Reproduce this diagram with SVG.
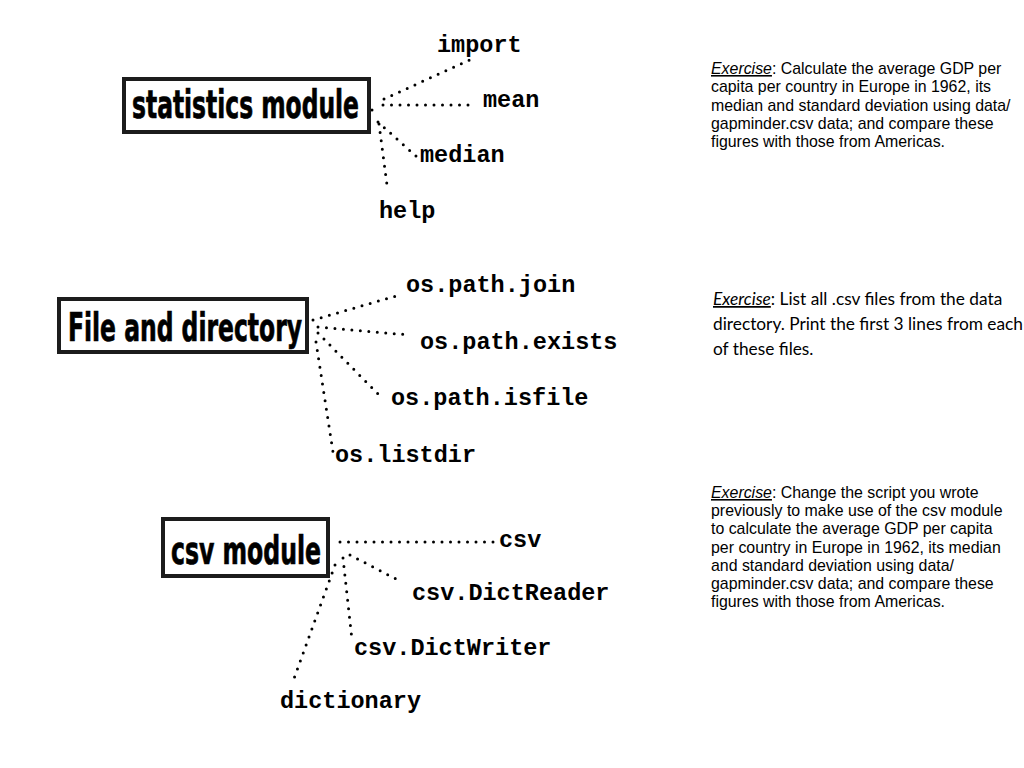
<svg xmlns="http://www.w3.org/2000/svg" width="1024" height="768" viewBox="0 0 1024 768">
<style>
.box{fill:#fff;stroke:#1c1c1c;stroke-width:4}
.title{font-family:"Liberation Sans Narrow","DejaVu Sans Condensed","Liberation Sans",sans-serif;font-weight:bold;font-size:39px;fill:#000;stroke:#000;stroke-width:0.7}
.lbl{font-family:"Liberation Mono","Courier New",monospace;font-weight:bold;font-size:23.5px;fill:#000}
.dot{stroke:#000;stroke-width:3;stroke-linecap:round;stroke-dasharray:0 8.5;fill:none}
.ex{font-family:"Liberation Sans",Arial,sans-serif;font-size:15.9px;fill:#000}
.ex2{font-family:Lato,"Open Sans",sans-serif;font-size:17.3px;fill:#000}
.u{font-style:italic;text-decoration:underline}
</style>
<rect width="1024" height="768" fill="#fff"/>
<g id="connectors">
<line class="dot" x1="384" y1="99" x2="476" y2="57"/>
<line class="dot" x1="383" y1="105" x2="474" y2="105"/>
<circle cx="372" cy="110" r="1.5"/>
<line class="dot" x1="378" y1="122" x2="417" y2="157"/>
<line class="dot" x1="379" y1="124" x2="387" y2="185"/>
<line class="dot" x1="313" y1="320" x2="396" y2="296"/>
<line class="dot" x1="318" y1="327" x2="410" y2="335"/>
<line class="dot" x1="318" y1="333" x2="382" y2="398"/>
<line class="dot" x1="316" y1="342" x2="333" y2="452"/>
<line class="dot" x1="340" y1="542" x2="495" y2="542"/>
<line class="dot" x1="350" y1="555" x2="398" y2="580"/>
<line class="dot" x1="343" y1="558" x2="352" y2="640"/>
<line class="dot" x1="335" y1="565" x2="292" y2="684"/>
</g>
<g id="statistics">
<rect class="box" x="124" y="79" width="245" height="53"/>
<text class="title" x="132" y="118" textLength="227" lengthAdjust="spacingAndGlyphs">statistics module</text>
</g>
<g id="stat-labels">
<text class="lbl" x="437" y="52">import</text>
<text class="lbl" x="483" y="107">mean</text>
<text class="lbl" x="420" y="162">median</text>
<text class="lbl" x="379" y="218">help</text>
</g>
<g id="filedir">
<rect class="box" x="59" y="299" width="248" height="53"/>
<text class="title" x="68" y="341" textLength="234" lengthAdjust="spacingAndGlyphs">File and directory</text>
</g>
<g id="file-labels">
<text class="lbl" x="406" y="292">os.path.join</text>
<text class="lbl" x="420" y="349">os.path.exists</text>
<text class="lbl" x="391" y="405">os.path.isfile</text>
<text class="lbl" x="335" y="462">os.listdir</text>
</g>
<g id="csv">
<rect class="box" x="163" y="519" width="165" height="57"/>
<text class="title" x="171" y="564" textLength="150" lengthAdjust="spacingAndGlyphs">csv module</text>
</g>
<g id="csv-labels">
<text class="lbl" x="499" y="547">csv</text>
<text class="lbl" x="412" y="600">csv.DictReader</text>
<text class="lbl" x="354" y="655">csv.DictWriter</text>
<text class="lbl" x="280" y="708">dictionary</text>
</g>
<g id="exercise1">
<text class="ex" x="711" y="74"><tspan class="u">Exercise</tspan>: Calculate the average GDP per</text>
<text class="ex" x="711" y="92">capita per country in Europe in 1962, its</text>
<text class="ex" x="711" y="111">median and standard deviation using data/</text>
<text class="ex" x="711" y="129">gapminder.csv data; and compare these</text>
<text class="ex" x="711" y="147">figures with those from Americas.</text>
</g>
<g id="exercise2">
<text class="ex2" x="713" y="305"><tspan class="u">Exercise</tspan>: List all .csv files from the data</text>
<text class="ex2" x="713" y="330">directory. Print the first 3 lines from each</text>
<text class="ex2" x="713" y="355">of these files.</text>
</g>
<g id="exercise3">
<text class="ex" x="711" y="498"><tspan class="u">Exercise</tspan>: Change the script you wrote</text>
<text class="ex" x="711" y="516">previously to make use of the csv module</text>
<text class="ex" x="711" y="534">to calculate the average GDP per capita</text>
<text class="ex" x="711" y="553">per country in Europe in 1962, its median</text>
<text class="ex" x="711" y="571">and standard deviation using data/</text>
<text class="ex" x="711" y="589">gapminder.csv data; and compare these</text>
<text class="ex" x="711" y="607">figures with those from Americas.</text>
</g>
</svg>
